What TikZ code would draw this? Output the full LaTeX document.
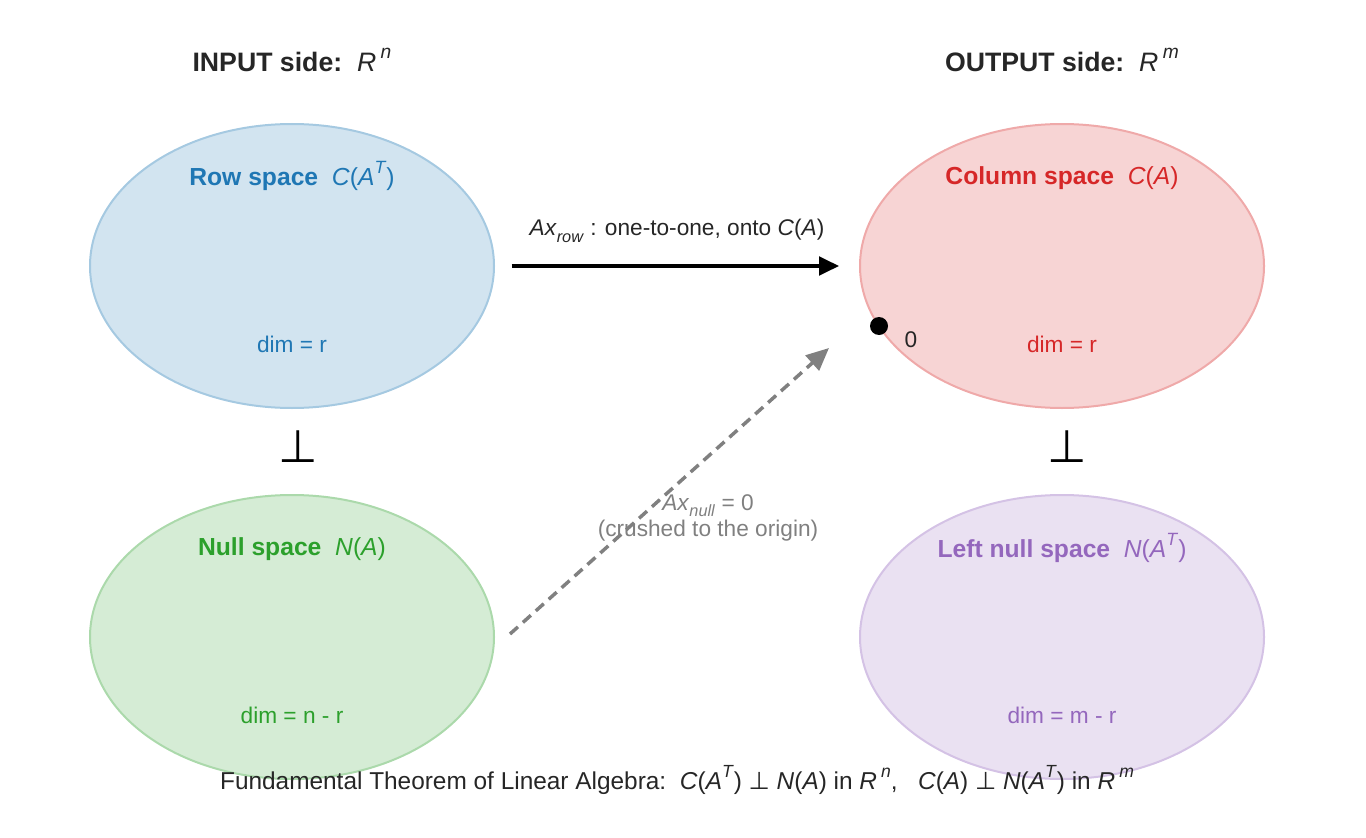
\documentclass[tikz,border=0pt]{standalone}
\usepackage{fontspec}
\setmainfont{Liberation Sans}
\newfontfamily\symfont{DejaVu Sans}
\usetikzlibrary{shapes.geometric,arrows.meta}

\definecolor{tabblue}{HTML}{1F77B4}
\definecolor{tabred}{HTML}{D62728}
\definecolor{tabgreen}{HTML}{2CA02C}
\definecolor{tabpurple}{HTML}{9467BD}
\definecolor{inkgray}{HTML}{262626}

% italic letters, raised and lowered indices as in the formulas
\newcommand{\mv}[1]{\textit{#1}}
\newcommand{\sups}[1]{\raisebox{0.48em}{\scalebox{0.72}{\textit{#1}}}}
\newcommand{\subs}[1]{\raisebox{-0.28em}{\scalebox{0.72}{\textit{#1}}}}
\newcommand{\perpsym}{{\symfont ⊥}}

\tikzset{
  subspace/.style={ellipse, minimum width=303pt, minimum height=213pt,
    fill=#1!20, draw=#1!40, line width=1.5pt},
  sidetitle/.style={text=inkgray, font=\fontsize{20}{24}\selectfont\bfseries},
  spacename/.style={text=#1, font=\fontsize{18.5}{22}\selectfont\bfseries},
  dimlabel/.style={text=#1, font=\fontsize{17}{20}\selectfont},
  perpmark/.style={font=\fontsize{34}{40}\selectfont},
  maparrow/.style={line width=2.3pt, -{Triangle[length=15pt,width=14pt]}},
  nullarrow/.style={line width=2.6pt, gray, dash pattern=on 8pt off 5pt,
    -{Triangle[length=17pt,width=15pt]}},
}

\begin{document}
\begin{tikzpicture}[x=0.75pt,y=-0.75pt]
  \useasboundingbox (0,0) rectangle (1366,838);

  % Titles of the two sides
  \node[sidetitle] (intitle) at (292,60) {INPUT side:\ \ \mdseries\mv{R}\,\sups{n}};
  \node[sidetitle] (outtitle) at (1062,60) {OUTPUT side:\ \ \mdseries\mv{R}\,\sups{m}};

  % The four subspaces
  \node[subspace=tabblue] (row) at (292,266) {};
  \node[subspace=tabred] (col) at (1062,266) {};
  \node[subspace=tabgreen] (null) at (292,637) {};
  \node[subspace=tabpurple] (lnull) at (1062,637) {};

  \node[spacename=tabblue] at (292,176) {Row space\ \ \mdseries\mv{C}(\mv{A}\sups{T})};
  \node[dimlabel=tabblue] at (292,344) {dim = r};
  \node[spacename=tabred] at (1062,178) {Column space\ \ \mdseries\mv{C}(\mv{A})};
  \node[dimlabel=tabred] at (1062,344) {dim = r};
  \node[spacename=tabgreen] at (292,549) {Null space\ \ \mdseries\mv{N}(\mv{A})};
  \node[dimlabel=tabgreen] at (292,715) {dim = n - r};
  \node[spacename=tabpurple] at (1062,548) {Left null space\ \ \mdseries\mv{N}(\mv{A}\sups{T})};
  \node[dimlabel=tabpurple] at (1062,715) {dim = m - r};

  % Orthogonality marks
  \node[perpmark] (perpin) at (298,447) {\perpsym};
  \node[perpmark] (perpout) at (1067,447) {\perpsym};

  % Origin of the output side
  \fill (879,326) circle[radius=9];
  \node[dimlabel=inkgray] (zero) at (911,340) {0};

  % Row space maps onto the column space
  \draw[maparrow, shorten <=12.5pt, shorten >=15pt] (row.east) -- (col.west);
  \node[dimlabel=inkgray] (rowlabel) at (677,231)
    {\mv{Ax}\subs{row} : one-to-one, onto \mv{C}(\mv{A})};

  % Null space goes to zero
  \coordinate (nullfrom) at (510,634);
  \coordinate (nullto) at (829,348);
  \draw[nullarrow] (nullfrom) -- (nullto);
  \node[dimlabel=gray, align=center] (nulllabel) at (708,518)
    {\mv{Ax}\subs{null} = 0\\(crushed to the origin)};

  % Caption
  \node[dimlabel=inkgray, font=\fontsize{18.3}{22}\selectfont] (caption) at (677,780)
    {Fundamental Theorem of Linear Algebra:\ \ \mv{C}(\mv{A}\sups{T}) \perpsym\ \mv{N}(\mv{A}) in \mv{R}\,\sups{n},\ \ \ \mv{C}(\mv{A}) \perpsym\ \mv{N}(\mv{A}\sups{T}) in \mv{R}\,\sups{m}};
\end{tikzpicture}
\end{document}
